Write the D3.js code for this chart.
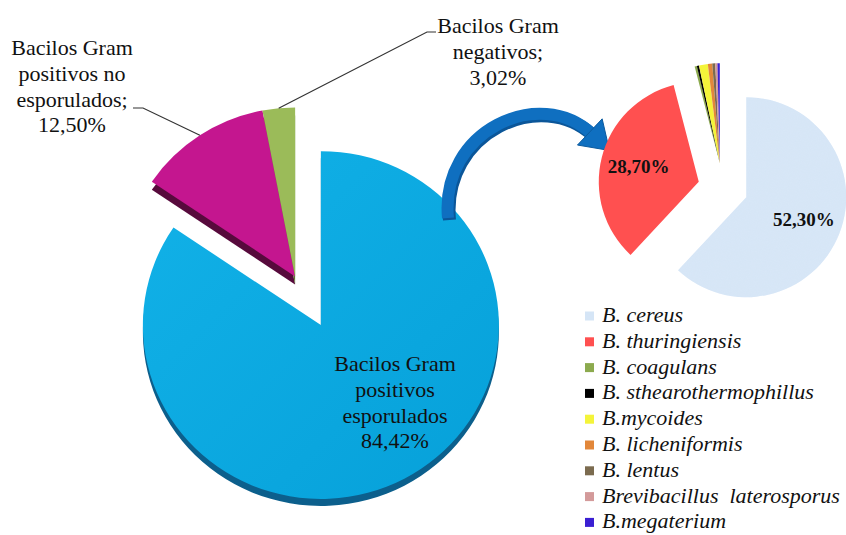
<!DOCTYPE html>
<html>
<head>
<meta charset="utf-8">
<script src="https://cdn.jsdelivr.net/npm/d3@7/dist/d3.min.js"></script>
<style>
  html, body { margin: 0; padding: 0; background: #ffffff; }
  svg { display: block; }
</style>
</head>
<body>
<svg id="chart" width="846" height="535" font-family="'Liberation Serif', 'Times New Roman', 'DejaVu Serif', serif"></svg>
<script>
// ---------------- DATA ----------------
const mainCategories = ["Bacilos Gram positivos esporulados", "Bacilos Gram positivos no esporulados", "Bacilos Gram negativos"];
const mainValues = [84.42, 12.50, 3.02];
const mainLabelLines = [["Bacilos Gram", "positivos", "esporulados"], ["Bacilos Gram", "positivos no", "esporulados;"], ["Bacilos Gram", "negativos;"]];

const subCategories = ["B. cereus", "B. thuringiensis", "B. coagulans", "B. sthearothermophillus", "B.mycoides", "B. licheniformis", "B. lentus", "Brevibacillus  laterosporus", "B.megaterium"];
const subValues = [52.30, 28.70, 0.30, 0.30, 1.20, 0.60, 0.40, 0.30, 0.32];

// ---------------- STYLE ----------------
const FONT = "'Liberation Serif', 'Times New Roman', 'DejaVu Serif', serif";
const mainColors = ["#0aa7e0", "#c4168f", "#9bbb59"];
const mainSideColors = ["#0c5f8c", "#570a3c", "#5d7a2c"];
const subColors = ["#d5e5f6", "#ff5050", "#8caa4e", "#000000", "#f4f43a", "#e2873a", "#7b6b4f", "#d39a9a", "#3a1fd2"];

const fmt = d3.formatLocale({decimal: ",", thousands: ".", grouping: [3], currency: ["", ""]}).format(".2f");
const pct = v => fmt(v) + "%";

const svg = d3.select("#chart");
const defs = svg.append("defs");

// light texture for B. cereus
const f = defs.append("filter").attr("id", "tex").attr("x", 0).attr("y", 0).attr("width", 1).attr("height", 1);
f.append("feTurbulence").attr("type", "fractalNoise").attr("baseFrequency", 0.9).attr("numOctaves", 2).attr("seed", 3).attr("result", "n");
f.append("feColorMatrix").attr("in", "n").attr("type", "matrix")
  .attr("values", "0 0 0 0 0.72  0 0 0 0 0.82  0 0 0 0 0.95  0 0 0 0.45 0").attr("result", "c");
f.append("feComposite").attr("in", "c").attr("in2", "SourceGraphic").attr("operator", "in").attr("result", "t");
const fm = f.append("feMerge");
fm.append("feMergeNode").attr("in", "SourceGraphic");
fm.append("feMergeNode").attr("in", "t");

const blueGrad = defs.append("linearGradient").attr("id", "blueGrad").attr("x1", 0).attr("x2", 1).attr("y1", 0).attr("y2", 1);
blueGrad.append("stop").attr("offset", "0%").attr("stop-color", "#12b2e8");
blueGrad.append("stop").attr("offset", "100%").attr("stop-color", "#06a0d9");

// ---------------- MAIN PIE ----------------
const mainO = [319, 321.5];
const yScale = 0.977;
const depth = 8;
const mainPie = d3.pie().sort(null).startAngle(0).endAngle(2 * Math.PI)(mainValues);
const groupMid = (mainPie[1].startAngle + mainPie[2].endAngle) / 2;
const mainR = [178, 173, 173];
const explodeMain = [4, 51, 51];
function mainCenter(i) {
  const a = i === 0 ? (mainPie[0].startAngle + mainPie[0].endAngle) / 2 : groupMid;
  return [mainO[0] + explodeMain[i] * Math.sin(a), mainO[1] - explodeMain[i] * Math.cos(a)];
}
const gMain = svg.append("g");
const drawOrder = [1, 2, 0];
// side (depth) layers
drawOrder.forEach(i => {
  const c = mainCenter(i);
  const arc = d3.arc().innerRadius(0).outerRadius(mainR[i]);
  gMain.append("path")
    .attr("transform", `translate(${c[0]},${c[1] + (i === 0 ? depth - 1 : depth)}) scale(1,${yScale})`)
    .attr("d", arc(mainPie[i]))
    .attr("fill", mainSideColors[i]);
});
drawOrder.forEach(i => {
  const c = mainCenter(i);
  const arc = d3.arc().innerRadius(0).outerRadius(mainR[i]);
  gMain.append("path")
    .attr("transform", `translate(${c[0]},${c[1]}) scale(1,${yScale})`)
    .attr("d", arc(mainPie[i]))
    .attr("fill", i === 0 ? "url(#blueGrad)" : mainColors[i]);
});

// leader lines
function outerPoint(i) {
  const c = mainCenter(i);
  const a = (mainPie[i].startAngle + mainPie[i].endAngle) / 2;
  return [c[0] + mainR[i] * Math.sin(a), c[1] - mainR[i] * Math.cos(a) * yScale];
}
const p1 = outerPoint(1), p2 = outerPoint(2);
svg.append("path").attr("d", `M${p1[0]},${p1[1]} L143,108 L133,108`).attr("fill", "none").attr("stroke", "#333").attr("stroke-width", 1.2);
svg.append("path").attr("d", `M${p2[0]},${p2[1]} L427,32 L436,32`).attr("fill", "none").attr("stroke", "#333").attr("stroke-width", 1.2);

// labels
const labelPos = [[395, 371], [72, 55], [498, 33]];
const lineH = 25.8;
mainLabelLines.forEach((lines, i) => {
  const t = svg.append("text").attr("text-anchor", "middle").attr("font-size", 22)
    .attr("font-family", FONT).attr("fill", "#111");
  lines.concat([pct(mainValues[i])]).forEach((s, k) => {
    t.append("tspan").attr("x", labelPos[i][0]).attr("y", labelPos[i][1] + k * lineH).text(s);
  });
});

// ---------------- ARROW ----------------
const P0 = [448, 218], P1 = [440, 130], P2 = [540, 85], P3 = [592, 134];
const arrowPath = `M${P0} C${P1} ${P2} ${P3}`;
svg.append("path").attr("d", arrowPath).attr("transform", "translate(1.5,2)").attr("fill", "none").attr("stroke", "#0b5699").attr("stroke-width", 13);
svg.append("path").attr("d", arrowPath).attr("fill", "none").attr("stroke", "#0f6fc0").attr("stroke-width", 12);
{
  const dx = P3[0] - P2[0], dy = P3[1] - P2[1], L = Math.hypot(dx, dy);
  const ux = dx / L, uy = dy / L, nx = -uy, ny = ux;
  const w1 = [P3[0] + 18 * nx - 3 * ux, P3[1] + 18 * ny - 3 * uy];
  const w2 = [P3[0] - 18 * nx - 3 * ux, P3[1] - 18 * ny - 3 * uy];
  const tip = [P3[0] + 24 * ux, P3[1] + 24 * uy];
  svg.append("path").attr("d", `M${w1} L${tip} L${w2} Z`).attr("fill", "#0f6fc0").attr("stroke", "#0b5a9e").attr("stroke-width", 1);
}

// ---------------- SUB PIE ----------------
const subO = [723, 188];
const subR = 100;
const subExplode = 25;
const subPie = d3.pie().sort(null).startAngle(0).endAngle(2 * Math.PI)(subValues);
const smallMid = (subPie[2].startAngle + subPie[subPie.length - 1].endAngle) / 2;
function subCenter(i) {
  const a = i < 2 ? (subPie[i].startAngle + subPie[i].endAngle) / 2 : smallMid;
  return [subO[0] + subExplode * Math.sin(a), subO[1] - subExplode * Math.cos(a)];
}
const subArc = d3.arc().innerRadius(0).outerRadius(subR);
const gSub = svg.append("g");
subPie.forEach((d, i) => {
  const c = subCenter(i);
  gSub.append("path")
    .attr("transform", `translate(${c[0]},${c[1]})`)
    .attr("d", subArc(d))
    .attr("fill", subColors[i])
    .attr("filter", i === 0 ? "url(#tex)" : null);
});
// value labels in the two big slices
[0, 1].forEach(i => {
  const c = subCenter(i);
  const a = (subPie[i].startAngle + subPie[i].endAngle) / 2;
  const r = subR * 0.62;
  svg.append("text")
    .attr("x", c[0] + r * Math.sin(a))
    .attr("y", c[1] - r * Math.cos(a) + 6)
    .attr("text-anchor", "middle")
    .attr("font-family", FONT).attr("fill", "#111")
    .attr("font-size", 19).attr("font-weight", "bold")
    .text(pct(subValues[i]));
});

// ---------------- LEGEND ----------------
const legend = svg.append("g").attr("transform", "translate(585,316)");
subCategories.forEach((name, i) => {
  const g = legend.append("g").attr("transform", `translate(0,${i * 25.8})`);
  g.append("rect").attr("x", 0).attr("y", -4.5).attr("width", 9).attr("height", 9).attr("fill", subColors[i]);
  g.append("text").attr("x", 17).attr("y", 6).attr("font-size", 22).attr("font-style", "italic")
    .attr("font-family", FONT).attr("fill", "#111")
    .style("white-space", "pre").text(name);
});
</script>
</body>
</html>
